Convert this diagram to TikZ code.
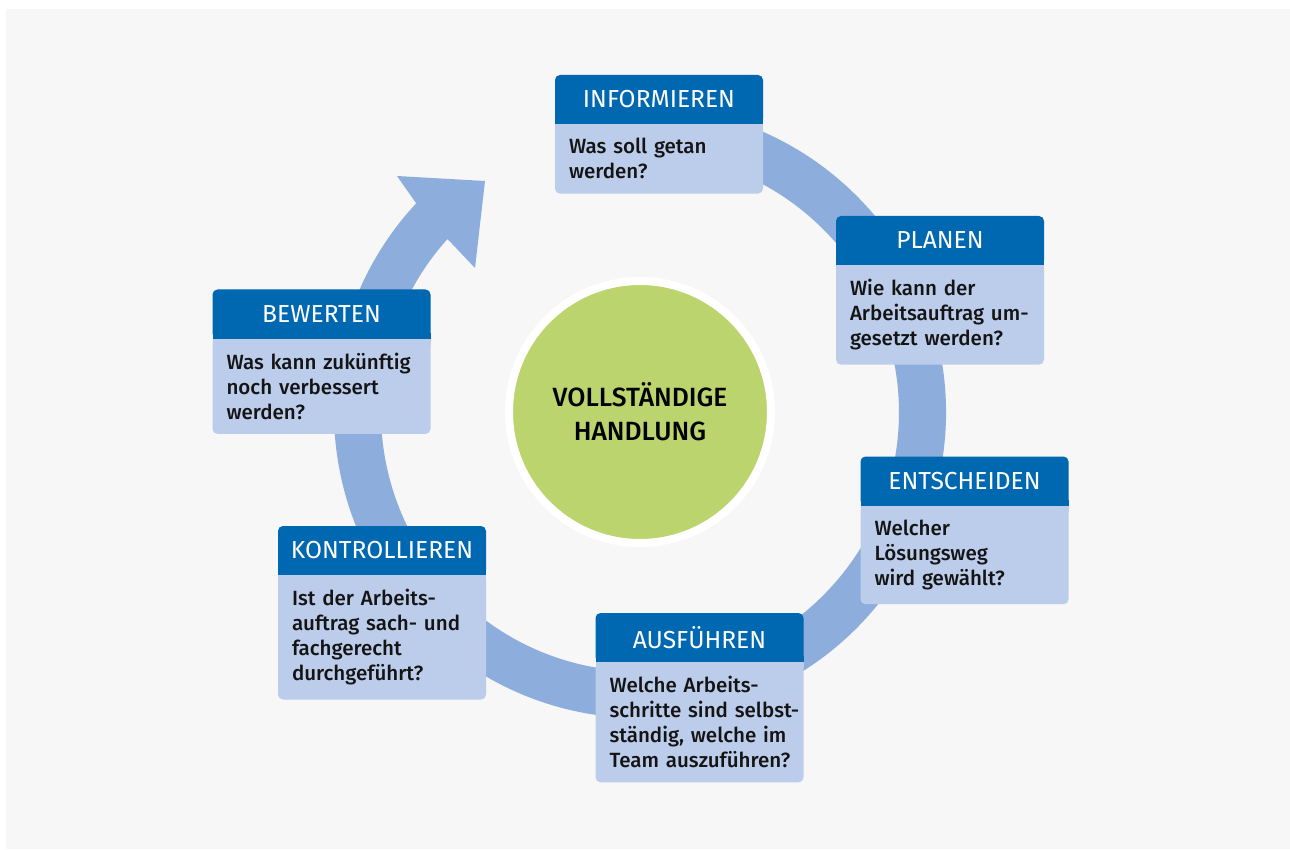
\documentclass[tikz,border=0pt]{standalone}
\usepackage{fontspec}
\setmainfont{Fira Sans}
\newfontfamily\mittel{Fira Sans Medium}
\usetikzlibrary{positioning}

\definecolor{kopfblau}{RGB}{0,103,177}
\definecolor{fragblau}{RGB}{188,205,235}
\definecolor{ringblau}{RGB}{141,174,220}
\definecolor{gruen}{RGB}{188,212,110}
\definecolor{hintergrund}{RGB}{246,247,246}
\definecolor{schrift}{RGB}{20,20,20}

\begin{document}
\begin{tikzpicture}[x=0.2mm,y=0.2mm,
  kopf/.style={fill=kopfblau, text=white, rounded corners=1mm, minimum width=41.6mm,
    minimum height=9.8mm, inner sep=0pt, outer sep=0pt, font=\fontsize{14}{16}\selectfont},
  frage/.style={fill=fragblau, text=schrift, rounded corners=1mm, text width=41mm,
    align=left, inner xsep=0.3mm, inner ysep=8.2pt, outer sep=0pt,
    execute at begin node={\leftskip=2.5mm},
    font=\mittel\fontsize{11.7}{14.2}\selectfont},
  kern/.style={circle, fill=gruen, draw=white, line width=1.6mm, minimum size=52.4mm,
    align=center, text=black, font=\mittel\fontsize{15}{19.3}\selectfont}]
  \useasboundingbox (0,0) rectangle (1290,849);
  \fill[white] (0,0) rectangle (1290,849);
  \fill[hintergrund] (6,0) rectangle (1290,840);

  % Kreislauf mit Pfeilspitze
  \coordinate (C) at (640,437);
  \fill[ringblau] (C) ++(100:306) arc[start angle=100, end angle=-223, radius=306]
    -- (397,673) -- (485,668) -- (475,581) -- (447.5,610)
    arc[start angle=-222, end angle=100, radius=259] -- cycle;

  \node[kern] (kern) at (C) {VOLLSTÄNDIGE\\HANDLUNG};

  \node[kopf] (info) at (659,749.5) {INFORMIEREN};
  \node[frage, below=0pt of info] (info-t) {Was soll getan\\werden?};

  \node[kopf] (plan) at (940,608.5) {PLANEN};
  \node[frage, below=0pt of plan] (plan-t) {Wie kann der\\Arbeitsauftrag um-\\gesetzt werden?};

  \node[kopf] (ents) at (964.5,368) {ENTSCHEIDEN};
  \node[frage, below=0pt of ents] (ents-t) {Welcher\\Lösungsweg\\wird gewählt?};

  \node[kopf] (ausf) at (699.5,211.5) {AUSFÜHREN};
  \node[frage, below=0pt of ausf] (ausf-t) {Welche Arbeits-\\schritte~sind~selbst-\\ständig, welche im\\Team auszuführen?};

  \node[kopf] (kontr) at (382,298.5) {KONTROLLIEREN};
  \node[frage, below=0pt of kontr] (kontr-t) {Ist der Arbeits-\\auftrag sach- und\\fachgerecht\\durchgeführt?};

  \node[kopf, minimum width=43.6mm] (bew) at (321.5,535) {BEWERTEN};
  \node[frage, text width=43mm, below=0pt of bew] (bew-t) {Was kann zukünftig\\noch verbessert\\werden?};

  % eckige Innenkanten zwischen Kopf und Frage
  \foreach \k in {info,plan,ents,ausf,kontr,bew}{
    \fill[kopfblau] (\k.south west) rectangle ([yshift=1.2mm]\k.south east);
    \fill[fragblau] (\k-t.north west) rectangle ([yshift=-1.2mm]\k-t.north east);
  }
\end{tikzpicture}
\end{document}
